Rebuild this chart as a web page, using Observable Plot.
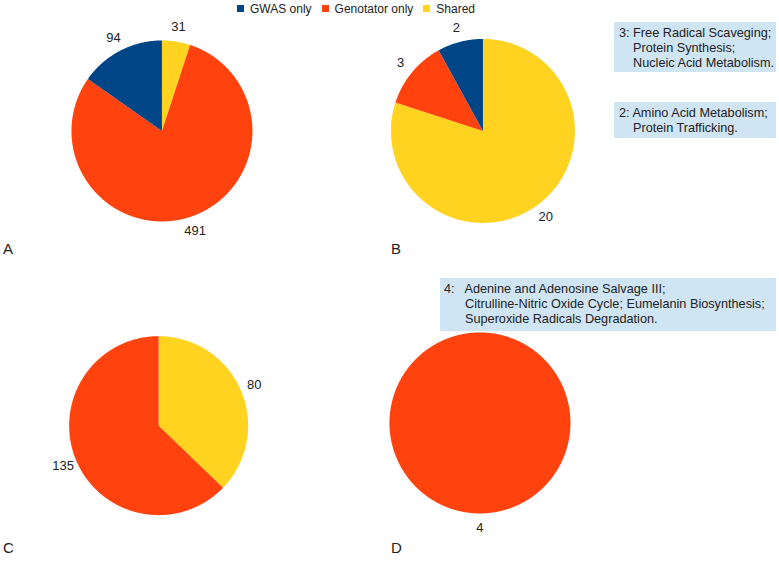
<!DOCTYPE html>
<html>
<head>
<meta charset="utf-8">
<script src="https://cdn.jsdelivr.net/npm/d3@7"></script>
<script src="https://cdn.jsdelivr.net/npm/@observablehq/plot@0.6"></script>
<style>
  html, body { margin: 0; padding: 0; background: #fff; }
  body { width: 779px; height: 561px; position: relative; overflow: hidden;
         font-family: "Liberation Sans", Arial, sans-serif; color: #222; }
  .legend { position: absolute; left: 237px; top: 2px; font-size: 12px; line-height: 14px; white-space: nowrap; }
  .legend span.item { margin-right: 10px; }
  .legend span.sw { display: inline-block; width: 7px; height: 7px; margin-right: 6px; vertical-align: 1px; }
  .box { position: absolute; background: #d0e5f3; font-size: 12.7px; line-height: 15px; color: #222; }
  .letter { position: absolute; font-size: 15px; color: #222; }
</style>
</head>
<body>
<script>
// ---- data ----
const categories = ["GWAS only", "Genotator only", "Shared"];
const categoryColors = ["#004586", "#ff420e", "#ffd320"];

// slices listed clockwise from 12 o'clock
const pieAKeys = ["Shared", "Genotator only", "GWAS only"];
const pieAValues = [31, 491, 94];
const pieBKeys = ["Shared", "Genotator only", "GWAS only"];
const pieBValues = [20, 3, 2];
const pieCKeys = ["Shared", "Genotator only"];
const pieCValues = [80, 135];
const pieDKeys = ["Genotator only"];
const pieDValues = [4];

const panelLetters = ["A", "B", "C", "D"];
const boxTexts = [
  ["3: Free Radical Scaveging;", "Protein Synthesis;", "Nucleic Acid Metabolism."],
  ["2: Amino Acid Metabolism;", "Protein Trafficking."],
  ["4:   Adenine and Adenosine Salvage III;", "Citrulline-Nitric Oxide Cycle; Eumelanin Biosynthesis;", "Superoxide Radicals Degradation."]
];

// ---- layout (pixels) ----
const panels = [
  {keys: pieAKeys, values: pieAValues, cx: 161, cy: 130, r: 90.5},
  {keys: pieBKeys, values: pieBValues, cx: 482, cy: 130, r: 92},
  {keys: pieCKeys, values: pieCValues, cx: 158.5, cy: 425, r: 89.5},
  {keys: pieDKeys, values: pieDValues, cx: 479, cy: 422.5, r: 90.5}
];
const ext = 1.32;

// legend
const legend = document.createElement("div");
legend.className = "legend";
categories.forEach((c, i) => {
  const it = document.createElement("span");
  it.className = "item";
  const sw = document.createElement("span");
  sw.className = "sw";
  sw.style.background = categoryColors[i];
  it.appendChild(sw);
  it.appendChild(document.createTextNode(c));
  legend.appendChild(it);
});
document.body.appendChild(legend);

function piePlot(p) {
  const rows = p.keys.map((k, i) => ({key: k, value: p.values[i]}));
  const arcs = d3.pie().sort(null).value(d => d.value)(rows);
  const pts = [];
  const labels = [];
  arcs.forEach(a => {
    const k = a.data.key;
    pts.push({key: k, x: 0, y: 0});
    const n = Math.max(2, Math.ceil((a.endAngle - a.startAngle) / 0.01));
    for (let j = 0; j <= n; j++) {
      const t = a.startAngle + (a.endAngle - a.startAngle) * j / n;
      pts.push({key: k, x: Math.sin(t), y: Math.cos(t)});
    }
    pts.push({key: k, x: 0, y: 0});
    const m = (a.startAngle + a.endAngle) / 2;
    labels.push({x: 1.16 * Math.sin(m), y: 1.16 * Math.cos(m), text: String(a.data.value)});
  });
  const size = 2 * ext * p.r;
  const chart = Plot.plot({
    width: size, height: size, margin: 0,
    x: {domain: [-ext, ext], axis: null},
    y: {domain: [-ext, ext], axis: null},
    color: {domain: categories, range: categoryColors},
    style: {background: "transparent", overflow: "visible"},
    marks: [
      Plot.line(pts, {x: "x", y: "y", z: "key", fill: "key", stroke: "none"}),
      Plot.text(labels, {x: "x", y: "y", text: "text", fontSize: 13, fill: "#222",
        fontFamily: "Liberation Sans, Arial, sans-serif"})
    ]
  });
  chart.style.position = "absolute";
  chart.style.left = (p.cx - size / 2) + "px";
  chart.style.top = (p.cy - size / 2) + "px";
  document.body.appendChild(chart);
}
panels.forEach(piePlot);

// panel letters
const letterPos = [[3, 240], [391, 240], [3, 539], [391, 539]];
panelLetters.forEach((L, i) => {
  const d = document.createElement("div");
  d.className = "letter";
  d.style.left = letterPos[i][0] + "px";
  d.style.top = letterPos[i][1] + "px";
  d.textContent = L;
  document.body.appendChild(d);
});

// text boxes
const boxGeom = [
  {left: 614, top: 22, width: 162, height: 50, pad: 5, indent: 14},
  {left: 614, top: 102, width: 162, height: 36, pad: 5, indent: 14},
  {left: 440, top: 278, width: 336, height: 53, pad: 4, indent: 21}
];
boxTexts.forEach((lines, i) => {
  const g = boxGeom[i];
  const b = document.createElement("div");
  b.className = "box";
  b.style.left = g.left + "px";
  b.style.top = g.top + "px";
  b.style.width = g.width + "px";
  b.style.height = g.height + "px";
  lines.forEach((ln, j) => {
    const l = document.createElement("div");
    l.style.whiteSpace = "pre";
    l.style.paddingLeft = (j === 0 ? g.pad : g.pad + g.indent) + "px";
    l.style.paddingTop = (j === 0 ? 4 : 0) + "px";
    l.textContent = ln;
    b.appendChild(l);
  });
  document.body.appendChild(b);
});
</script>
</body>
</html>
